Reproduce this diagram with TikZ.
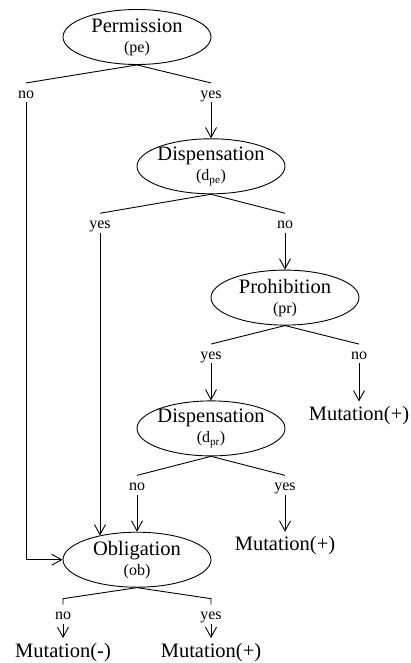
\documentclass[tikz,border=0pt]{standalone}
\usepackage{fontspec}
\setmainfont{Liberation Serif}
\usetikzlibrary{positioning}
\usetikzlibrary{shapes.geometric,arrows.meta}
\tikzset{
  decision/.style={ellipse, draw, line width=0.9pt, minimum width=148pt,
                   minimum height=55pt, inner xsep=-2pt, inner ysep=0pt,
                   align=center, font=\fontsize{20.5}{20}\selectfont},
  answer/.style={font=\fontsize{16}{16}\selectfont, text height=11pt,
                 text depth=0pt, inner sep=4pt},
  outcome/.style={font=\fontsize{20.5}{20}\selectfont, text height=18pt,
                  inner sep=1pt},
  line/.style={draw, line width=0.9pt},
  arrow/.style={line, -{Straight Barb[length=10pt,width=11pt]}}
}
\newcommand{\abbrev}[1]{{\fontsize{16}{16}\selectfont #1}}

\begin{document}
\begin{tikzpicture}[x=1pt,y=1pt]
        \useasboundingbox (0,0) rectangle (411,-663);
        \node[decision] (pe) at (137,-37) {Permission\\\abbrev{(pe)}};
        \node[answer, below=18pt of pe.south, xshift=-111pt] (peno) {no};
        \node[answer, below=18pt of pe.south, xshift=74pt] (peyes) {yes};
        \node[decision, below=36pt of peyes] (dpe) {Dispensation\\\abbrev{(d\textsubscript{pe})}};
        \node[answer, below=19pt of dpe.south, xshift=-111pt] (dpeyes) {yes};
        \node[answer, below=19pt of dpe.south, xshift=74pt] (dpeno) {no};
        \node[decision, below=37pt of dpeno] (pr) {Prohibition\\\abbrev{(pr)}};
        \node[answer, below=18.5pt of pr.south, xshift=-74pt] (pryes) {yes};
        \node[answer, below=18.5pt of pr.south, xshift=74pt] (prno) {no};
        \node[outcome, below=38pt of prno] (prmut) {Mutation(+)};
        \node[decision, below=37pt of pryes] (dpr) {Dispensation\\\abbrev{(d\textsubscript{pr})}};
        \node[answer, below=19pt of dpr.south, xshift=-74pt] (dprno) {no};
        \node[answer, below=19pt of dpr.south, xshift=74pt] (dpryes) {yes};
        \node[outcome, below=37pt of dpryes] (dprmut) {Mutation(+)};
        \node[decision, below=37pt of dprno] (ob) {Obligation\\\abbrev{(ob)}};
        \node[answer, below=17pt of ob.south, xshift=-74pt] (obno) {no};
        \node[answer, below=17pt of ob.south, xshift=74pt] (obyes) {yes};
        \node[outcome, below=14pt of obno] (obmutneg) {Mutation(-)};
        \node[outcome, below=14pt of obyes] (obmutpos) {Mutation(+)};
        \path[line] (pe.south) -- (peno.north);
        \path[line] (pe.south) -- (peyes.north);
        \path[arrow] (peyes) -- (dpe);
        \path[arrow] (peno.south) |- (ob.west);
        \path[line] (dpe.south) -- (dpeyes.north);
        \path[line] (dpe.south) -- (dpeno.north);
        \path[arrow] (dpeyes.south) -- (dpeyes.south |- ob.147);
        \path[arrow] (dpeno) -- (pr);
        \path[line] (pr.south) -- (pryes.north);
        \path[line] (pr.south) -- (prno.north);
        \path[arrow] (pryes) -- (dpr);
        \path[arrow] (prno) -- (prmut);
        \path[line] (dpr.south) -- (dprno.north);
        \path[line] (dpr.south) -- (dpryes.north);
        \path[arrow] (dprno) -- (ob);
        \path[arrow] (dpryes) -- (dprmut);
        \path[line] (ob.south) -- ([yshift=6pt]obno.north) -- (obno.north);
        \path[line] (ob.south) -- ([yshift=6pt]obyes.north) -- (obyes.north);
        \path[arrow] (obno) -- (obmutneg);
        \path[arrow] (obyes) -- (obmutpos);
\end{tikzpicture}
\end{document}
